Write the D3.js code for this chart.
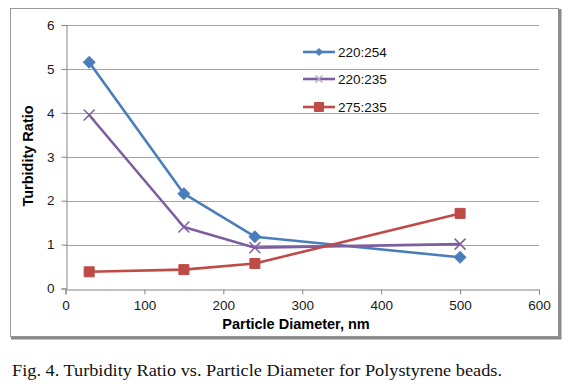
<!DOCTYPE html>
<html>
<head>
<meta charset="utf-8">
<script src="https://cdn.jsdelivr.net/npm/d3@7"></script>
<style>
  body { margin: 0; background: #fff; }
  svg { display: block; }
</style>
</head>
<body>
<div id="chart"></div>
<script>
// values
const diameters = [30, 150, 240, 500]
const ratio220_254 = [5.15, 2.16, 1.18, 0.71]
const ratio220_235 = [3.95, 1.40, 0.93, 1.01]
const ratio275_235 = [0.38, 0.43, 0.57, 1.71]
const xTicks = [0, 100, 200, 300, 400, 500, 600]
const yTicks = [0, 1, 2, 3, 4, 5, 6]

const series = [
    {name: "220:254", values: ratio220_254, color: "#4a7ebb", marker: "diamond"},
    {name: "220:235", values: ratio220_235, color: "#7d5fa0", marker: "x"},
    {name: "275:235", values: ratio275_235, color: "#be4b48", marker: "square"}
]

const width = 581
const height = 386

const svg = d3.select("#chart")
    .append("svg")
    .attr("width", width)
    .attr("height", height)

// chart frame with shadow on right/bottom
svg.append("rect")
    .attr("x", 10.5).attr("y", 8.5)
    .attr("width", 548).attr("height", 328)
    .attr("fill", "white")
    .attr("stroke", "#9a9a9a")
    .attr("stroke-width", 1)
svg.append("path")
    .attr("d", "M560,9 V338 H11")
    .attr("fill", "none")
    .attr("stroke", "#8a8a8a")
    .attr("stroke-width", 3)

const x = d3.scaleLinear().domain([0, 600]).range([65.5, 539])
const y = d3.scaleLinear().domain([0, 6]).range([288.5, 25])

// horizontal gridlines
svg.selectAll("line.grid")
    .data(yTicks.slice(1))
    .enter()
    .append("line")
    .attr("class", "grid")
    .attr("x1", x(0)).attr("x2", x(600))
    .attr("y1", d => Math.round(y(d)) + 0.5)
    .attr("y2", d => Math.round(y(d)) + 0.5)
    .attr("stroke", "#a6a6a6")

const xAxis = svg.append("g")
    .attr("transform", "translate(0," + (Math.round(y(0)) + 0.5) + ")")
    .call(d3.axisBottom(x).tickValues(xTicks).tickFormat(d3.format("d")).tickSize(5).tickPadding(6))
const yAxis = svg.append("g")
    .attr("transform", "translate(" + (Math.round(x(0)) + 0.5) + ",0)")
    .call(d3.axisLeft(y).tickValues(yTicks).tickFormat(d3.format("d")).tickSize(5).tickPadding(7))

;[xAxis, yAxis].forEach(function(ax) {
    ax.select(".domain").attr("stroke", "#868686")
    ax.selectAll(".tick line").attr("stroke", "#868686")
    ax.selectAll(".tick text")
        .attr("fill", "#1a1a1a")
        .style("font-family", "'Liberation Sans', Arial, sans-serif")
        .style("font-size", "13.5px")
})

// axis titles
svg.append("text")
    .attr("x", 296).attr("y", 329)
    .attr("text-anchor", "middle")
    .style("font-family", "'Liberation Sans', Arial, sans-serif")
    .style("font-weight", "bold")
    .style("font-size", "14.5px")
    .text("Particle Diameter, nm")

svg.append("text")
    .attr("transform", "translate(33,156) rotate(-90)")
    .attr("text-anchor", "middle")
    .style("font-family", "'Liberation Sans', Arial, sans-serif")
    .style("font-weight", "bold")
    .style("font-size", "14.5px")
    .text("Turbidity Ratio")

function markerPath(type, s) {
    if (type === "diamond") return "M0," + (-s) + "L" + s + ",0L0," + s + "L" + (-s) + ",0Z"
    if (type === "square") return "M" + (-s) + "," + (-s) + "H" + s + "V" + s + "H" + (-s) + "Z"
    return "M" + (-s) + "," + (-s) + "L" + s + "," + s + "M" + (-s) + "," + s + "L" + s + "," + (-s)
}

function drawMarker(g, type, color, s) {
    const p = g.append("path").attr("d", markerPath(type, s))
    if (type === "x") {
        p.attr("fill", "none").attr("stroke", color).attr("stroke-width", 1.5)
    } else {
        p.attr("fill", color).attr("stroke", color).attr("stroke-width", 1)
    }
}

const line = d3.line()
    .x((d, i) => x(diameters[i]))
    .y(d => y(d))

series.forEach(function(s) {
    svg.append("path")
        .datum(s.values)
        .attr("d", line)
        .attr("fill", "none")
        .attr("stroke", s.color)
        .attr("stroke-width", 2.6)
        .attr("stroke-linejoin", "round")
})

series.forEach(function(s) {
    s.values.forEach(function(v, i) {
        const g = svg.append("g")
            .attr("transform", "translate(" + x(diameters[i]) + "," + y(v) + ")")
        const size = s.marker === "diamond" ? 6 : (s.marker === "square" ? 5 : 5.5)
        drawMarker(g, s.marker, s.color, size)
    })
})

// legend
const legend = svg.append("g")
const legendY = [52, 79, 107]
series.forEach(function(s, i) {
    const g = legend.append("g").attr("transform", "translate(303," + legendY[i] + ")")
    g.append("line")
        .attr("x1", 0).attr("x2", 32)
        .attr("stroke", s.color)
        .attr("stroke-width", 2.6)
    const mg = g.append("g").attr("transform", "translate(16,0)")
    const size = s.marker === "diamond" ? 3.5 : (s.marker === "square" ? 4.5 : 3.5)
    drawMarker(mg, s.marker, s.marker === "x" ? "#b5a6cc" : s.color, size)
    g.append("text")
        .attr("x", 35).attr("y", 5)
        .style("font-family", "'Liberation Sans', Arial, sans-serif")
        .style("font-size", "13.5px")
        .attr("fill", "#111")
        .text(s.name)
})

// caption
svg.append("text")
    .attr("x", 12).attr("y", 376)
    .attr("textLength", 490)
    .attr("lengthAdjust", "spacingAndGlyphs")
    .style("font-family", "'Liberation Serif', 'Times New Roman', serif")
    .style("font-size", "17px")
    .attr("fill", "#111")
    .text("Fig. 4. Turbidity Ratio vs. Particle Diameter for Polystyrene beads.")
</script>
</body>
</html>
